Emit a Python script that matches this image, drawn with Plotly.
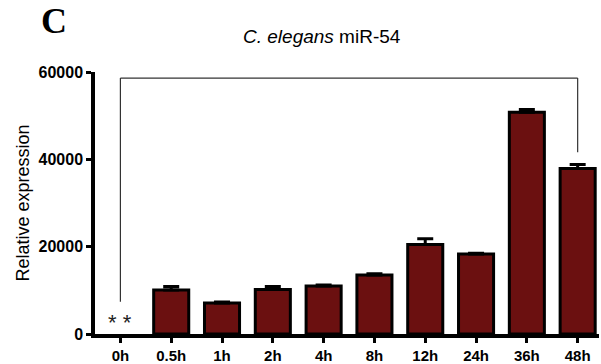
import plotly.graph_objects as go

# Time points and mean relative expression with SEM (upper error only)
timepoints = ["0h", "0.5h", "1h", "2h", "4h", "8h", "12h", "24h", "36h", "48h"]
expression = [0, 10100, 7100, 10200, 11000, 13500, 20500, 18300, 50800, 37900]
sem = [0, 800, 250, 700, 250, 300, 1300, 200, 600, 900]

y_ticks = [0, 20000, 40000, 60000]

bar_fill = "#6B1010"
font_family = "Liberation Sans, Arial, sans-serif"

# layout geometry in pixels
W, H = 601, 364
ML, MR, MT, MB = 95, 2, 72, 30
PW, PH = W - ML - MR, H - MT - MB


def px_to_paper(px, py):
    return (px - ML) / PW, 1 + (MT - py) / PH


# bars with no signal get no error whisker ("NaN" is skipped by plotly.js)
err_plus = [s if v > 0 else "NaN" for v, s in zip(expression, sem)]
err_minus = [0 if v > 0 else "NaN" for v in expression]

fig = go.Figure()
fig.add_trace(go.Bar(
    x=list(range(len(timepoints))),
    y=expression,
    width=0.69,
    marker=dict(color=bar_fill,
                line=dict(color="black", width=[0 if v == 0 else 3 for v in expression])),
    error_y=dict(type="data", array=err_plus, arrayminus=err_minus,
                 symmetric=False, color="black", thickness=3, width=8),
    showlegend=False,
))

# Significance bracket from 0h to 48h
bracket = dict(type="line", xref="x", yref="y",
               line=dict(color="#333333", width=1.2))
fig.add_shape(**bracket, x0=0, x1=0, y0=7400, y1=58600)
fig.add_shape(**bracket, x0=0, x1=9, y0=58600, y1=58600)
fig.add_shape(**bracket, x0=9, x1=9, y0=58600, y1=41600)

fig.add_annotation(x=0, y=2600, xref="x", yref="y", text="* *",
                   showarrow=False, yanchor="middle",
                   font=dict(size=22, color="#222222", family=font_family))

# Title and panel letter
tx, ty = px_to_paper(322, 36)
fig.add_annotation(x=tx, y=ty, xref="paper", yref="paper", text="<i>C. elegans</i> miR-54",
                   showarrow=False, xanchor="center", yanchor="middle",
                   font=dict(size=19, color="black", family=font_family))
cx, cy = px_to_paper(54, 21)
fig.add_annotation(x=cx, y=cy, xref="paper", yref="paper", text="<b>C</b>",
                   showarrow=False, xanchor="center", yanchor="middle",
                   font=dict(size=36, color="black", family="Liberation Serif, Times New Roman, serif"))

fig.update_layout(
    width=W, height=H,
    margin=dict(l=ML, r=MR, t=MT, b=MB),
    paper_bgcolor="white", plot_bgcolor="white",
    font=dict(family=font_family, color="black"),
)

fig.update_xaxes(
    range=[-0.5, 9.42], automargin=False,
    tickmode="array", tickvals=list(range(len(timepoints))), ticktext=timepoints,
    showline=True, linecolor="black", linewidth=3.5,
    ticks="outside", ticklen=5, tickwidth=3, tickcolor="black",
    tickfont=dict(size=15, family=font_family, color="black", weight="bold"),
    showgrid=False, zeroline=False,
)
fig.update_yaxes(
    range=[0, 60000], automargin=False,
    tickmode="array", tickvals=y_ticks, ticktext=[str(v) for v in y_ticks],
    showline=True, linecolor="black", linewidth=3.5,
    ticks="outside", ticklen=5, tickwidth=3, tickcolor="black",
    tickfont=dict(size=16, family=font_family, color="black", weight="bold"),
    title=dict(text="Relative expression", font=dict(size=18, family=font_family), standoff=5),
    showgrid=False, zeroline=False,
)

fig.write_html("out.html")
